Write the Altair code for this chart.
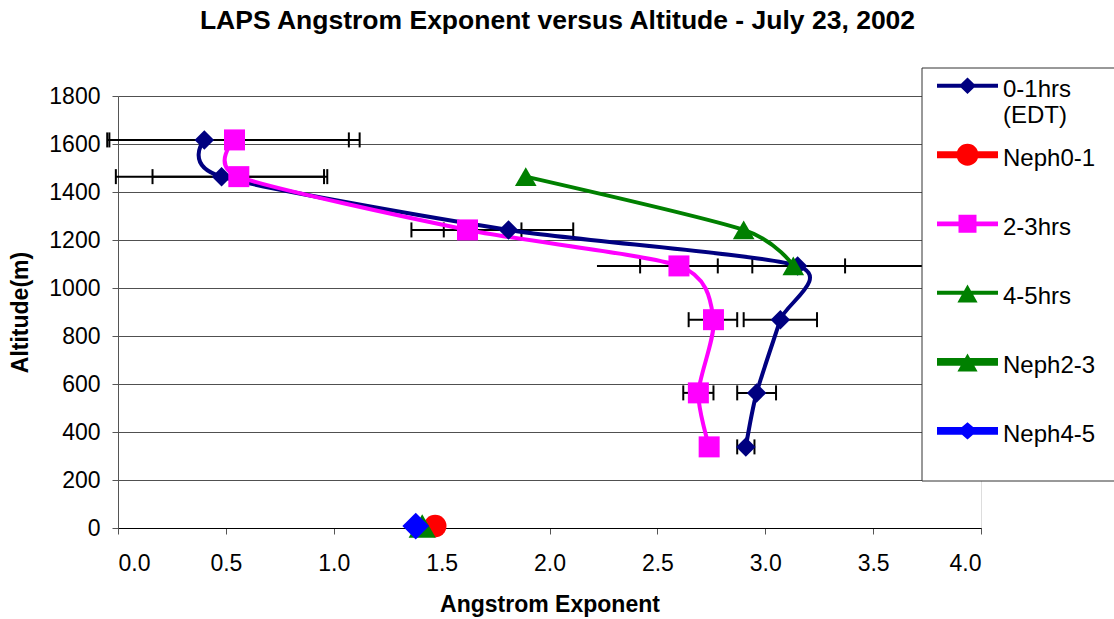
import altair as alt
import pandas as pd

# Angstrom exponent profiles (LAPS) versus altitude, by time window (EDT)
ALT_PROFILE = [1617, 1464, 1242, 1092, 868, 563, 338]

AE_0_1 = [0.40, 0.48, 1.81, 3.15, 3.07, 2.96, 2.91]
ERR_LO_0_1 = [-0.04, -0.01, 1.51, 2.22, 2.90, 2.87, 2.87]
ERR_HI_0_1 = [1.07, 0.97, 2.11, 4.10, 3.24, 3.05, 2.95]
CAP_LO_0_1 = [True, True, True, False, True, True, True]

AE_2_3 = [0.54, 0.56, 1.62, 2.60, 2.76, 2.69, 2.74]
ERR_LO_2_3 = [-0.05, 0.16, 1.36, 2.42, 2.645, 2.62, 2.72]
ERR_HI_2_3 = [1.12, 0.955, 1.87, 2.78, 2.87, 2.76, 2.76]

ALT_4_5 = [1464, 1242, 1092]
AE_4_5 = [1.89, 2.90, 3.13]
ERR_LO_4_5 = [None, None, 2.94]
ERR_HI_4_5 = [None, None, 3.37]

# Ground-level nephelometer values
NEPH_SERIES = ["Neph0-1", "Neph2-3", "Neph4-5"]
NEPH_AE = [1.47, 1.41, 1.38]
NEPH_ALT = [8, 8, 8]

LEGEND_ORDER = ["0-1hrs", "Neph0-1", "2-3hrs", "4-5hrs", "Neph2-3", "Neph4-5"]
LEGEND_COLORS = ["#000080", "#FF0000", "#FF00FF", "#008000", "#008000", "#0000FF"]

X_TICKS = [0.0, 0.5, 1.0, 1.5, 2.0, 2.5, 3.0, 3.5, 4.0]
Y_TICKS = list(range(0, 1801, 200))

FONT = "Liberation Sans"

# ---------------------------------------------------------------- tables
rows = []
for name, xs, alts in [("0-1hrs", AE_0_1, ALT_PROFILE),
                       ("2-3hrs", AE_2_3, ALT_PROFILE),
                       ("4-5hrs", AE_4_5, ALT_4_5)]:
    for i, (x, a) in enumerate(zip(xs, alts)):
        rows.append({"series": name, "idx": i, "ae": x, "alt": a})
profiles = pd.DataFrame(rows)

err_rows, cap_rows = [], []
for alts, los, his, caps_lo in [
    (ALT_PROFILE, ERR_LO_0_1, ERR_HI_0_1, CAP_LO_0_1),
    (ALT_PROFILE, ERR_LO_2_3, ERR_HI_2_3, [True] * 7),
    (ALT_4_5, ERR_LO_4_5, ERR_HI_4_5, [True] * 3),
]:
    for a, lo, hi, cl in zip(alts, los, his, caps_lo):
        if lo is None:
            continue
        err_rows.append({"alt": a, "lo": lo, "hi": hi})
        if cl:
            cap_rows.append({"alt": a, "x": lo})
        if hi <= 4.0:
            cap_rows.append({"alt": a, "x": hi})
errbars = pd.DataFrame(err_rows)
caps = pd.DataFrame(cap_rows)

neph = pd.DataFrame({"series": NEPH_SERIES, "ae": NEPH_AE, "alt": NEPH_ALT})

# ---------------------------------------------------------------- scales / axes
XS = alt.Scale(domain=[0, 4], nice=False, zero=False)
YS = alt.Scale(domain=[0, 1800], nice=False)

X_AXIS = alt.Axis(
    values=X_TICKS, format=".1f", grid=False,
    domainColor="#000000", domainWidth=1,
    tickColor="#555555", tickSize=6, tickWidth=1,
    labelFont=FONT, labelFontSize=23, labelColor="black", labelPadding=18,
    title="Angstrom Exponent", titleFont=FONT, titleFontSize=23,
    titleFontWeight="bold", titleColor="black", titlePadding=18,
)
Y_AXIS = alt.Axis(
    values=Y_TICKS, format="d", grid=True, gridColor="#505050", gridWidth=1,
    domainColor="#555555", domainWidth=1,
    tickColor="#555555", tickSize=6, tickWidth=1,
    labelFont=FONT, labelFontSize=23, labelColor="black", labelPadding=12,
    title="Altitude(m)", titleFont=FONT, titleFontSize=23,
    titleFontWeight="bold", titleColor="black", titlePadding=16,
)


def xenc(field):
    return alt.X(f"{field}:Q", scale=XS, axis=X_AXIS)


def yenc(field):
    return alt.Y(f"{field}:Q", scale=YS, axis=Y_AXIS)


# ---------------------------------------------------------------- error bars
err_layer = alt.Chart(errbars).mark_rule(color="black", strokeWidth=2).encode(
    x=xenc("lo"), x2="hi:Q", y=yenc("alt")
)
cap_layer = alt.Chart(caps).mark_tick(
    orient="vertical", size=15, thickness=2, color="black", opacity=1
).encode(x=xenc("x"), y=yenc("alt"))

# ---------------------------------------------------------------- profiles
STYLE = {
    "0-1hrs": dict(color="#000080", shape="diamond", size=380),
    "2-3hrs": dict(color="#FF00FF", shape="square", size=441),
    "4-5hrs": dict(color="#008000", shape="triangle-up", size=470),
}
line_layers, point_layers = [], []
for name, st in STYLE.items():
    sub = alt.Chart(profiles).transform_filter(alt.datum.series == name)
    line_layers.append(
        sub.mark_line(color=st["color"], strokeWidth=4,
                      interpolate="cardinal", tension=0.25)
        .encode(x=xenc("ae"), y=yenc("alt"), order="idx:Q")
    )
    point_layers.append(
        sub.mark_point(shape=st["shape"], size=st["size"], filled=True,
                       color=st["color"], opacity=1, strokeWidth=0)
        .encode(x=xenc("ae"), y=yenc("alt"))
    )

NEPH_STYLE = {
    "Neph0-1": dict(color="#FF0000", shape="circle", size=515),
    "Neph2-3": dict(color="#008000", shape="triangle-up", size=740),
    "Neph4-5": dict(color="#0000FF", shape="diamond", size=711),
}
neph_layers = []
for name, st in NEPH_STYLE.items():
    neph_layers.append(
        alt.Chart(neph).transform_filter(alt.datum.series == name)
        .mark_point(shape=st["shape"], size=st["size"], filled=True,
                    color=st["color"], opacity=1, strokeWidth=0)
        .encode(x=xenc("ae"), y=yenc("alt"))
    )

# ---------------------------------------------------------------- legend
# Legend symbols: a line segment with the series marker on it (unit box -1..1).
# Each path also carries two zero-length anchors so all entries share one height.
OY = -0.12
EXTENT = 0.45


def anchors():
    return f"M0,{OY - EXTENT:.3f}L0,{OY - EXTENT:.3f}M0,{OY + EXTENT:.3f}L0,{OY + EXTENT:.3f}"


def line_part(h):
    return f"M-1,{OY - h:.3f}H1V{OY + h:.3f}H-1Z"


def diamond(w, h):
    return f"M0,{OY - h:.3f}L{w},{OY:.3f}L0,{OY + h:.3f}L-{w},{OY:.3f}Z"


def square(s):
    return f"M-{s},{OY - s:.3f}H{s}V{OY + s:.3f}H-{s}Z"


def triangle(w, top, bot):
    return f"M0,{OY - top:.3f}L{w},{OY + bot:.3f}L-{w},{OY + bot:.3f}Z"


def circle(r):
    return (f"M-{r},{OY:.3f}A{r},{r} 0 1,1 {r},{OY:.3f}"
            f"A{r},{r} 0 1,1 -{r},{OY:.3f}Z")


LEGEND_SHAPES = [
    anchors() + line_part(0.066) + diamond(0.28, 0.27),
    anchors() + line_part(0.115) + circle(0.36),
    anchors() + line_part(0.075) + square(0.295),
    anchors() + line_part(0.066) + triangle(0.33, 0.27, 0.32),
    anchors() + line_part(0.125) + triangle(0.33, 0.27, 0.32),
    anchors() + line_part(0.13) + diamond(0.33, 0.28),
]

legend = alt.Legend(
    title=None, orient="none", direction="vertical",
    legendX=819, legendY=-37, padding=0,
    symbolSize=3721, symbolStrokeWidth=0, symbolOpacity=1,
    labelFont=FONT, labelFontSize=24, labelColor="black", labelOffset=5,
    labelLimit=300, rowPadding=-0.8,
    labelExpr="datum.label == '0-1hrs' ? ['0-1hrs', '(EDT)'] : [datum.label, '']",
)

legend_df = pd.DataFrame({"series": LEGEND_ORDER})
legend_layer = (
    alt.Chart(legend_df)
    .transform_filter("false")
    .mark_point(filled=True, opacity=1, strokeWidth=0)
    .encode(
        color=alt.Color("series:N",
                        scale=alt.Scale(domain=LEGEND_ORDER, range=LEGEND_COLORS),
                        legend=legend),
        shape=alt.Shape("series:N",
                        scale=alt.Scale(domain=LEGEND_ORDER, range=LEGEND_SHAPES),
                        legend=legend),
    )
)

legend_box = alt.Chart(pd.DataFrame({"k": [0]})).mark_rect(
    fill="white", stroke="#333333", strokeWidth=1
).encode(x=alt.value(804), x2=alt.value(1012), y=alt.value(-28), y2=alt.value(385))

chart = alt.layer(
    err_layer, cap_layer, *line_layers, *point_layers, *neph_layers,
    legend_box, legend_layer,
).properties(
    width=863, height=432,
    autosize="none",
    padding={"left": 118, "top": 96, "right": 133, "bottom": 91},
    title=alt.Title(
        "LAPS Angstrom Exponent versus Altitude - July 23, 2002",
        font=FONT, fontSize=26.5, fontWeight="bold", color="black",
        anchor="middle", offset=24.5, dx=8,
    ),
).configure_view(stroke=None).configure(background="white")

chart.save("out.html", embed_options={"renderer": "svg", "actions": False})
